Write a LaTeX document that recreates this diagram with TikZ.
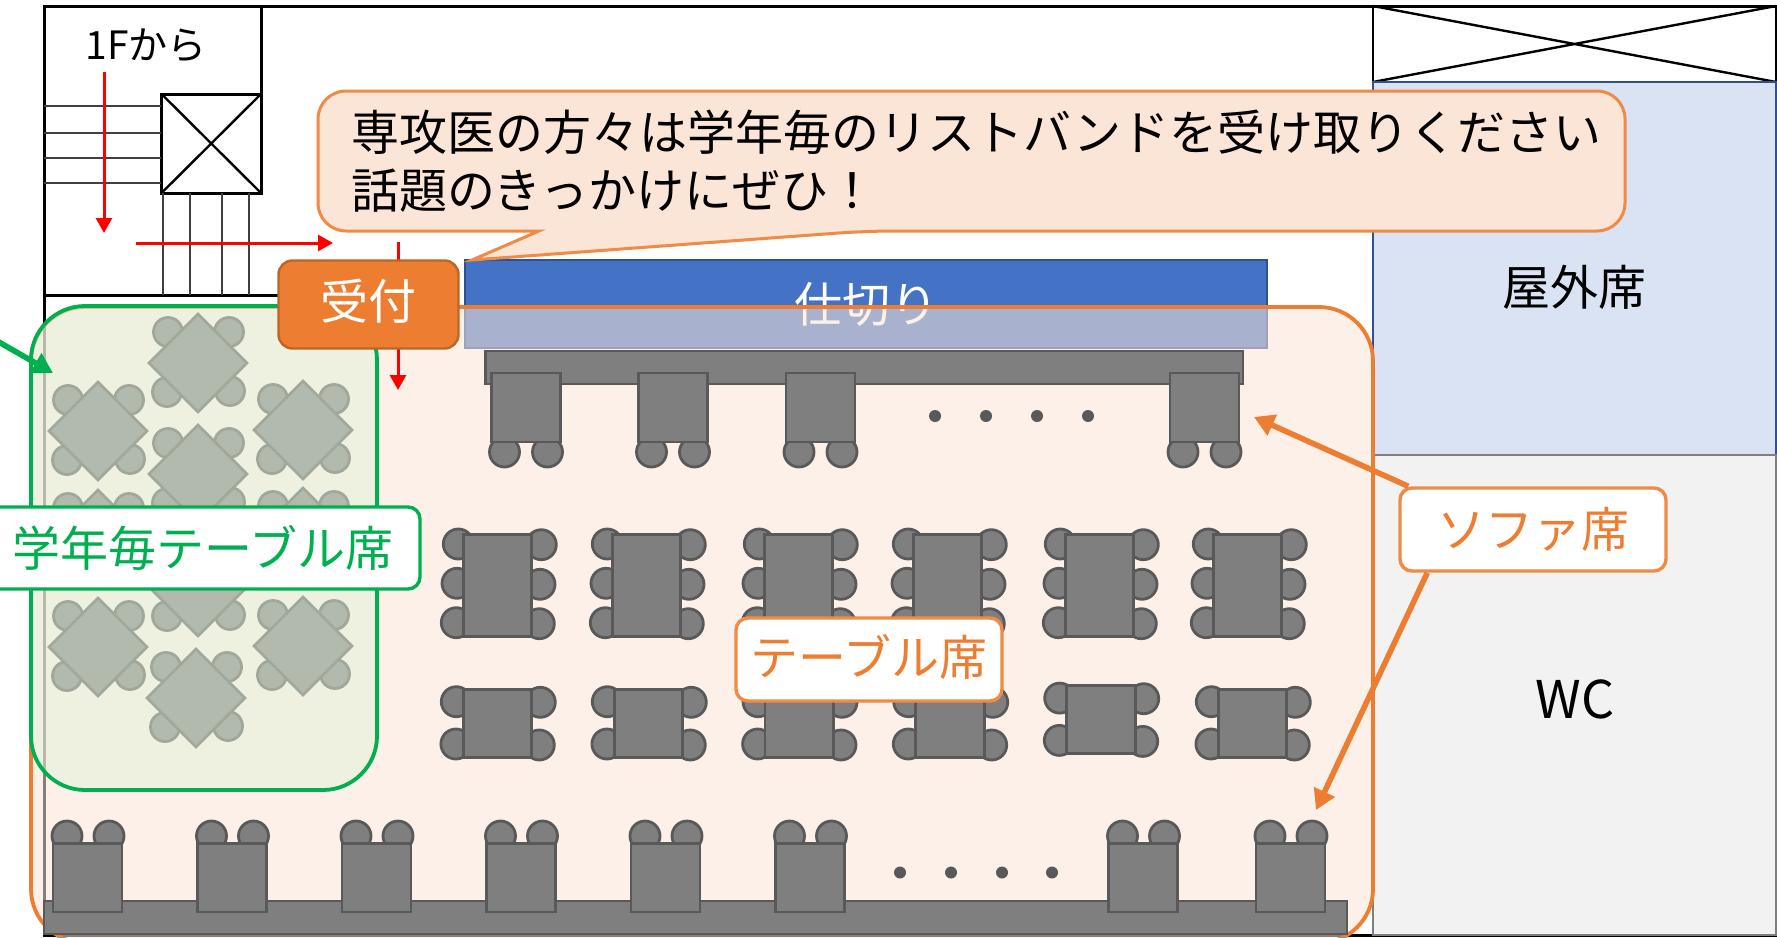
\documentclass[tikz,border=0pt]{standalone}
\usepackage{fontspec}
\setmainfont{Noto Sans CJK JP}
\usetikzlibrary{arrows.meta}
\definecolor{orangeline}{HTML}{ED7D31}
\definecolor{orangesoft}{HTML}{F08A45}
\definecolor{orangepale}{HTML}{FBE5D6}
\definecolor{greenline}{HTML}{00B050}
\definecolor{greenpale}{HTML}{E2F0D9}
\definecolor{bluewall}{HTML}{2F528F}
\definecolor{bluefill}{HTML}{4472C4}
\definecolor{bluepale}{HTML}{DAE3F3}
\definecolor{seatfill}{HTML}{7F7F7F}
\definecolor{seatline}{HTML}{595959}
\begin{document}
\begin{tikzpicture}[x=0.5pt,y=-0.5pt,
    wall/.style={draw=black,line width=1.5pt},
    tread/.style={draw=black!75,line width=0.8pt},
    redarrow/.style={draw=red,line width=1.5pt,-{Triangle[length=7.5pt,width=8pt]}},
    seat/.style={draw=seatline,fill=seatfill,line width=1.4pt},
    bigtext/.style={font=\fontsize{24}{30}\selectfont,text height=18pt,text depth=0pt,inner sep=0pt},
    roomlabel/.style={bigtext,text=black},
    tag/.style={bigtext,rounded corners=6pt,fill=white,line width=1.7pt},
    orangearrow/.style={draw=orangeline,line width=2.8pt,-{Triangle[length=10pt,width=11pt]}},
    greenarrow/.style={draw=greenline,line width=2.8pt,-{Triangle[length=10pt,width=11pt]}}]
  \clip (0,0) rectangle (1777,937);
  \fill[white] (0,0) rectangle (1777,937);

  % building
  \draw[wall] (44,6) rectangle (1776,935);
  \draw[wall] (44,295) -- (300,295);
  \draw[wall] (261,6) -- (261,94);
  \draw[wall] (161.5,94) rectangle (261,193);
  \draw[wall,line width=1.2pt] (161.5,94) -- (261,193) (161.5,193) -- (261,94);
  \foreach \ty in {106,133,158,183}
    \draw[tread] (44,\ty) -- (161,\ty);
  \foreach \tx in {163,190,222,249}
    \draw[tread] (\tx,193) -- (\tx,295);

  % rooms on the right
  \draw[wall,line width=1.2pt] (1373,6) rectangle (1776,82);
  \draw[line width=1.2pt] (1373,6) -- (1776,82) (1373,82) -- (1776,6);
  \node[draw=bluewall,fill=bluepale,line width=1pt,minimum width=201.5pt,minimum height=186.5pt,inner sep=0pt] (outdoor) at (1574.5,268.5) {};
  \node[draw=seatfill,fill=black!5,line width=1pt,minimum width=201.5pt,minimum height=240pt,inner sep=0pt] (wc) at (1574.5,695) {};
  \node[roomlabel] (outdoorlabel) at (1574,287) {屋外席};
  \node[roomlabel,font=\fontsize{26}{30}\selectfont] (wclabel) at (1575,700) {WC};

  % partition
  \node[bigtext,draw=bluewall,fill=bluefill,line width=1pt,minimum width=401pt,minimum height=44pt,text=white] (partition) at (866,304) {仕切り};

  % seating area
  \draw[orangeline,line width=1.9pt,rounded corners=27pt,fill=orangepale,fill opacity=0.55] (31,307) rectangle (1373,943);

  % red route
  \coordinate (stairtop) at (104,72);
  \coordinate (stairend) at (104,233);
  \coordinate (hallstart) at (136,243);
  \coordinate (hallend) at (333,243);
  \coordinate (deskstart) at (398,242);
  \coordinate (deskend) at (398,390);
  \draw[redarrow] (stairtop) -- (stairend);
  \draw[redarrow] (hallstart) -- (hallend);
  \draw[redarrow] (deskstart) -- (deskend);

  % sofa bars
  \draw[seat] (485.5,351) rectangle (1243,384);
  \draw[seat] (44,901) rectangle (1347,934);
  \foreach \sx in {491.5,638.5,786,1170} {
    \draw[seat] (\sx+13,452) circle [radius=15] (\sx+56,452) circle [radius=15];
    \draw[seat] (\sx,373) rectangle ++(69,69);
  }
  \foreach \sx in {53,197.5,342,486.5,631,775.5,1108.5,1256} {
    \draw[seat] (\sx+14,836) circle [radius=15] (\sx+56,836) circle [radius=15];
    \draw[seat] (\sx,843.5) rectangle ++(69,68.5);
  }
  \foreach \dx in {935,986,1037,1088}
    \fill[seatline] (\dx,416) circle [radius=6];
  \foreach \dx in {900,951,1002,1052}
    \fill[seatline] (\dx,872.5) circle [radius=6];

  % long tables
  \foreach \tx in {463.3,612.3,764.3,913.3,1065.3,1213.3} {
    \draw[seat] (\tx-5,544) circle [radius=15] (\tx-6.3,583.3) circle [radius=15] (\tx-7,622.7) circle [radius=15];
    \draw[seat] (\tx+78,544.7) circle [radius=15] (\tx+76.7,584.3) circle [radius=15] (\tx+76,623.7) circle [radius=15];
    \draw[seat] (\tx,534.3) rectangle ++(68.4,102);
  }
  % short tables
  \foreach \tx/\ty in {463.3/689.3,614.3/689.3,765/689.3,915.7/689.3,1066.7/685.7,1218.3/689.3} {
    \draw[seat] (\tx-7,\ty+12.4) circle [radius=15] (\tx-7.4,\ty+54.7) circle [radius=15];
    \draw[seat] (\tx+77,\ty+13) circle [radius=15] (\tx+76,\ty+55.7) circle [radius=15];
    \draw[seat] (\tx,\ty) rectangle ++(68.4,68);
  }

  % square tables under the green area
  \foreach \cx/\cy in {198/363,98/431,303/430,198/474,98/539,303/537,198/587,98/647,303/646,196/698} {
    \begin{scope}[shift={(\cx,\cy)}]
      \draw[seat] (-30,-31) circle [radius=14.5] (31,-31) circle [radius=14.5]
                  (-31,29) circle [radius=14.5] (32,28) circle [radius=14.5];
      \draw[seat] (0,-49) -- (49,0) -- (0,49) -- (-49,0) -- cycle;
    \end{scope}
  }
  \draw[greenline,line width=1.9pt,rounded corners=27pt,fill=greenpale,fill opacity=0.52] (31,306) rectangle (377,790);

  % speech bubble
  \draw[draw=orangesoft,fill=orangepale,line width=1.5pt,rounded corners=14pt]
    (900,91) -- (1625,91) -- (1625,231) -- (866,231)
    [sharp corners] -- (472,260) -- (539,231)
    [rounded corners=14pt] -- (318,231) -- (318,91) -- cycle;
  \node[anchor=west,align=left,inner sep=0pt,font=\fontsize{24}{29}\selectfont] (notice) at (351,161)
    {専攻医の方々は学年毎のリストバンドを受け取りください\\話題のきっかけにぜひ！};

  % reception and labels
  \node[bigtext,draw=orangeline!80!black,fill=orangeline,rounded corners=7pt,line width=1.2pt,minimum width=90pt,minimum height=44pt,text=white] (desk) at (368.5,304.5) {\raisebox{1.5pt}{受付}};
  \node[roomlabel,font=\fontsize{19.5}{24}\selectfont,text height=14.5pt] (upstairs) at (146,45) {1Fから};
  \node[tag,draw=greenline,text=greenline,minimum width=217pt,minimum height=41pt] (gradetag) at (203,548) {学年毎テーブル席};
  \node[tag,draw=orangesoft,text=orangeline,minimum width=133pt,minimum height=41.5pt] (tabletag) at (869,659.5) {\raisebox{1pt}{テーブル席}};
  \node[tag,draw=orangesoft,text=orangeline,minimum width=133pt,minimum height=41.5pt] (sofatag) at (1533,529.5) {ソファ席};

  \coordinate (sofatop) at (1254,417);
  \coordinate (sofabottom) at (1316,810);
  \coordinate (greenfree) at (-10,337);
  \coordinate (greentip) at (53,373);
  \draw[orangearrow] ([xshift=5pt]sofatag.north west) -- (sofatop);
  \draw[orangearrow] ([xshift=14.5pt]sofatag.south west) -- (sofabottom);
  \draw[greenarrow] (greenfree) -- (greentip);
\end{tikzpicture}
\end{document}
